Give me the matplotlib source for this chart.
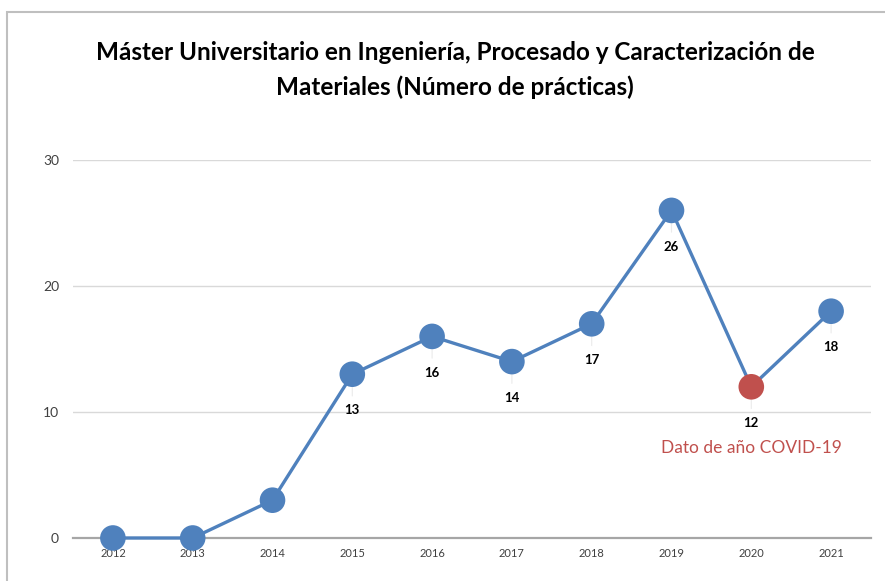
import matplotlib
matplotlib.use("Agg")
import matplotlib.pyplot as plt
from matplotlib.patches import Rectangle

# Data.
years = ["2012", "2013", "2014", "2015", "2016", "2017", "2018", "2019", "2020", "2021"]
practicas = [0, 0, 3, 13, 16, 14, 17, 26, 12, 18]
labelled = [False, False, False, True, True, True, True, True, True, True]
covid_year = "2020"

blue = "#4F81BD"
red = "#C0504D"

plt.rcParams["font.family"] = ["Lato", "DejaVu Sans"]

fig = plt.figure(figsize=(8.85, 5.81), dpi=100)
ax = fig.add_axes([73 / 885, 43 / 581, 798 / 885, 378 / 581])

x = list(range(len(years)))
ax.plot(x, practicas, color=blue, linewidth=2.4, zorder=3, clip_on=False)
colors = [red if y == covid_year else blue for y in years]
ax.scatter(x, practicas, s=340, c=colors, zorder=4, clip_on=False, linewidths=0)

# Data labels under the points, with faint leader lines.
for xi, v, show in zip(x, practicas, labelled):
    if not show:
        continue
    ax.annotate(str(v), (xi, v), xytext=(0, -26), textcoords="offset points",
                ha="center", va="center", fontsize=9.5, fontweight="bold", color="black",
                arrowprops=dict(arrowstyle="-", color="#EBEBEB", lw=0.8,
                                shrinkA=4, shrinkB=0), zorder=2)

ci = years.index(covid_year)
ax.annotate("Dato de año COVID-19", (ci, practicas[ci]), xytext=(0, -44),
            textcoords="offset points", ha="center", va="center",
            fontsize=12.5, color=red)

ax.set_xlim(-0.5, len(years) - 0.5)
ax.set_ylim(0, 30)
ax.set_yticks([0, 10, 20, 30])
ax.set_xticks(x)
ax.set_xticklabels(years, fontsize=8, color="#404040")
ax.tick_params(axis="y", labelsize=10, labelcolor="#404040", length=0, pad=10)
ax.tick_params(axis="x", length=0, pad=7)
ax.grid(axis="y", color="#D9D9D9", linewidth=1)
ax.set_axisbelow(True)
for side in ["top", "right", "left"]:
    ax.spines[side].set_visible(False)
ax.spines["bottom"].set_color("#A6A6A6")
ax.spines["bottom"].set_linewidth(1.6)

# Chart frame.
fig.patches.append(Rectangle((7 / 885, -0.1), 1.2, (581 - 12) / 581 + 0.1,
                             transform=fig.transFigure, fill=False,
                             edgecolor="#BFBFBF", linewidth=1.5))

fig.text(455 / 885, 1 - 70 / 581,
         "Máster Universitario en Ingeniería, Procesado y Caracterización de\n"
         "Materiales (Número de prácticas)",
         ha="center", va="center", fontsize=17.5, fontweight="bold",
         linespacing=1.6, color="black")

fig.savefig("out.png", dpi=100)
